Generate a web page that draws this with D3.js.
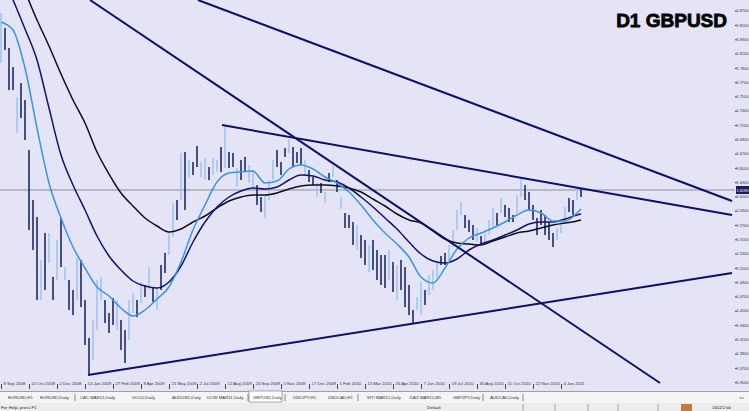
<!DOCTYPE html>
<html><head><meta charset="utf-8">
<script src="https://cdn.jsdelivr.net/npm/d3@7"></script>
<style>html,body{margin:0;padding:0;background:#fff;overflow:hidden}svg{display:block}text{font-family:"Liberation Sans",Arial,sans-serif}</style>
</head><body>
<script>
// ---- data (GBPUSD daily) ----
const highs = [
1.8668,1.8458,1.8178,1.7912,1.7492,1.7688,1.7450,1.6750,1.6050,1.5812,
1.5210,1.5588,1.5588,1.4972,1.5490,1.5798,1.5112,1.4930,1.4790,1.5238,
1.5210,1.4650,1.4118,1.4370,1.4930,1.4972,1.4650,1.4468,1.4678,1.4650,
1.4370,1.4230,1.4650,1.4748,1.4650,1.4902,1.4860,1.5112,1.4818,1.4818,
1.5140,1.5308,1.5588,1.6008,1.6050,1.6708,1.6722,1.6610,1.6582,1.6806,
1.6582,1.6638,1.6512,1.6638,1.6610,1.6792,1.7086,1.6722,1.6708,1.6498,
1.6610,1.6652,1.6540,1.6470,1.6260,1.6092,1.6120,1.6330,1.6610,1.6750,
1.6582,1.6778,1.6904,1.6792,1.6722,1.6778,1.6610,1.6470,1.6372,1.6288,
1.6288,1.6162,1.6428,1.6526,1.6330,1.6092,1.5868,1.5840,1.5742,1.5700,
1.5560,1.5490,1.5420,1.5490,1.5350,1.5280,1.5280,1.5350,1.5182,1.5140,
1.5210,1.5112,1.4860,1.4510,1.4692,1.4902,1.4790,1.5000,1.5070,1.5182,
1.5266,1.5308,1.5420,1.5630,1.5910,1.6022,1.5840,1.5770,1.5700,1.5658,
1.5546,1.5630,1.5770,1.5938,1.5868,1.6078,1.5980,1.5938,1.5840,1.6120,
1.6372,1.6260,1.6162,1.5980,1.5798,1.5910,1.5840,1.5742,1.5588,1.5658,
1.5742,1.5952,1.6078,1.6050,1.6232,1.6218];
const lows = [
1.7968,1.8150,1.7590,1.7590,1.6988,1.7198,1.6890,1.5630,1.5350,1.4650,
1.4650,1.4790,1.5168,1.4650,1.4930,1.5112,1.4930,1.4510,1.4440,1.4650,
1.4552,1.4020,1.3600,1.3810,1.4230,1.4650,1.4328,1.4188,1.4300,1.4230,
1.3950,1.3768,1.4090,1.4468,1.4412,1.4608,1.4692,1.4790,1.4622,1.4510,
1.4790,1.5028,1.5280,1.5532,1.5770,1.6050,1.5910,1.6358,1.6400,1.6512,
1.6372,1.6330,1.6330,1.6400,1.6442,1.6442,1.6498,1.6498,1.6512,1.6232,
1.6330,1.6442,1.6288,1.6190,1.5980,1.5882,1.5798,1.6050,1.6330,1.6512,
1.6400,1.6652,1.6708,1.6512,1.6568,1.6540,1.6400,1.6302,1.6260,1.6092,
1.6148,1.6008,1.6302,1.6372,1.6162,1.5924,1.5658,1.5658,1.5420,1.5350,
1.5238,1.5140,1.5042,1.5070,1.4930,1.4860,1.4818,1.4930,1.4762,1.4650,
1.4790,1.4552,1.4440,1.4328,1.4510,1.4440,1.4580,1.4720,1.4790,1.4958,
1.5140,1.5140,1.5210,1.5392,1.5630,1.5840,1.5658,1.5602,1.5490,1.5462,
1.5420,1.5420,1.5560,1.5672,1.5700,1.5868,1.5812,1.5742,1.5742,1.5868,
1.6092,1.6050,1.5910,1.5770,1.5560,1.5700,1.5560,1.5490,1.5392,1.5490,
1.5588,1.5770,1.5882,1.5840,1.6050,1.6092];
// L = bullish bar, D = bearish bar
const barDir = "LDDDLDDDDD"+"LDLDLDLDDL"+"DDDLLLDDDL"+"DDLLDLDLDL"+"DDLLDLDLDD"+"LLDLLDLDDL"+"DDLLDDLLLD"+"DDLDDDLDDL"+"DLDLDLDDDL"+"DDLDDDDLDL"+"DDDDLLDLLL"+"DDLLLLDDDL"+"DLLLDLDDDL"+"LDDDDDDDDL"+"LLDDLD";

// moving averages, sampled every 3rd bar (plus the last bar)
const maFast = [1.8542,1.8430,1.7898,1.7058,1.6288,1.5798,1.5392,1.5098,1.4832,1.4706,
1.4538,1.4426,1.4510,1.4664,1.4832,1.5182,1.5630,1.5980,1.6302,1.6428,
1.6442,1.6456,1.6288,1.6316,1.6484,1.6540,1.6484,1.6372,1.6288,1.6162,
1.5980,1.5770,1.5588,1.5434,1.5252,1.4972,1.4888,1.5098,1.5364,1.5518,
1.5588,1.5658,1.5742,1.5840,1.5910,1.5868,1.5756,1.5756,1.5868,1.5924];
const maMid = [1.9200,1.8850,1.8444,1.8010,1.7338,1.6680,1.6260,1.5910,1.5546,1.5266,
1.5070,1.4916,1.4846,1.4818,1.4902,1.5126,1.5462,1.5742,1.5952,1.6092,
1.6176,1.6218,1.6204,1.6232,1.6330,1.6400,1.6386,1.6330,1.6302,1.6218,
1.6092,1.5952,1.5798,1.5644,1.5462,1.5294,1.5196,1.5168,1.5224,1.5350,
1.5434,1.5490,1.5560,1.5630,1.5714,1.5742,1.5742,1.5784,1.5840,1.5854];
const maSlow = [1.9718,1.9298,1.8962,1.8570,1.8206,1.7814,1.7450,1.7128,1.6722,1.6414,
1.6148,1.5966,1.5798,1.5686,1.5602,1.5644,1.5742,1.5826,1.5938,1.6036,
1.6092,1.6120,1.6120,1.6148,1.6204,1.6246,1.6260,1.6260,1.6246,1.6218,
1.6162,1.6064,1.5966,1.5854,1.5770,1.5728,1.5616,1.5504,1.5448,1.5434,
1.5420,1.5476,1.5532,1.5588,1.5616,1.5658,1.5700,1.5728,1.5756,1.5770];

// trend lines: [barIndex, price] start and end
const trendLines = [
  [[49.25,1.8850],[182.75,1.6036]],
  [[22.25,1.8850],[164.75,1.3488]],
  [[55.25,1.7100],[182.75,1.5840]],
  [[21.75,1.3600],[182.75,1.5028]]
];
const lastPrice = 1.6190;
const priceTicks = [1.87,1.85,1.83,1.81,1.79,1.77,1.75,1.73,1.71,1.69,1.67,1.65,1.63,1.61,1.59,1.57,1.55,1.53,1.51,1.49,1.47,1.45,1.43,1.41,1.39,1.37,1.35];
const dateLabels = ["8 Sep 2008","20 Oct 2008","2 Dec 2008","14 Jan 2009","27 Feb 2009","9 Apr 2009","21 May 2009","2 Jul 2009","12 Aug 2009","24 Sep 2009","5 Nov 2009","17 Dec 2009","1 Feb 2010","15 Mar 2010","26 Apr 2010","7 Jun 2010","19 Jul 2010","30 Aug 2010","11 Oct 2010","22 Nov 2010","4 Jan 2011"];
const tabs = ["EURUSD,H1","EURUSD,Daily","CAC MAR11,Daily","GOLD,Daily","AUDUSD,Daily","DOW MAR11,Daily","GBPUSD,Daily","USDJPY,H1","USDCAD,H1","WTI MAR11,Daily","DAX MAR11,M5","GBPJPY,Daily","AUDCAD,Daily"];
const activeTab = "GBPUSD,Daily";
const title = "D1 GBPUSD";

// ---- layout ----
const W = 749, H = 411;
const plotR = 735, plotB = 384;
const svg = d3.select("body").append("svg").attr("width", W).attr("height", H);
svg.append("rect").attr("width", W).attr("height", H).attr("fill", "#fbfbfd");
svg.append("rect").attr("width", W).attr("height", 391).attr("fill", "#e4e4f6");

const x = d3.scaleLinear().domain([0, 145]).range([1, 581]);
const y = d3.scaleLinear().domain([1.8850, 1.3488]).range([0, 383]);

svg.append("defs").append("clipPath").attr("id","clip")
  .append("rect").attr("x",0).attr("y",0).attr("width",plotR).attr("height",plotB);
const plot = svg.append("g").attr("clip-path","url(#clip)");

// price line
plot.append("line").attr("x1",0).attr("x2",plotR).attr("y1",y(lastPrice)).attr("y2",y(lastPrice))
  .attr("stroke","#8c8ca0").attr("stroke-width",1);

// bars
const bars = highs.map((h,i)=>({i, h, l: lows[i], up: barDir[i] === "L"}));
plot.append("g").selectAll("line").data(bars).join("line")
  .attr("x1", d=>x(d.i)).attr("x2", d=>x(d.i))
  .attr("y1", d=>y(d.h)).attr("y2", d=>y(d.l))
  .attr("stroke", d=>d.up ? "#9fc6ee" : "#1d2a66")
  .attr("stroke-width", 1.6);

// moving averages
const maIdx = d3.range(0, 145, 3).concat([145]);
const maLine = d3.line().x((d,k)=>x(maIdx[k])).y(d=>y(d)).curve(d3.curveMonotoneX);
[[maSlow,"#0d0d1c"],[maMid,"#12126e"],[maFast,"#3b95dc"]].forEach(([arr,c])=>{
  plot.append("path").attr("d", maLine(arr)).attr("fill","none").attr("stroke",c).attr("stroke-width",1.5);
});

// trend lines
plot.append("g").selectAll("line").data(trendLines).join("line")
  .attr("x1", d=>x(d[0][0])).attr("y1", d=>y(d[0][1]))
  .attr("x2", d=>x(d[1][0])).attr("y2", d=>y(d[1][1]))
  .attr("stroke","#0e0e6e").attr("stroke-width",2);

// title
svg.append("text").attr("x",727).attr("y",27).attr("text-anchor","end")
  .attr("font-size",19).attr("font-weight","bold").attr("fill","#000")
  .attr("stroke","#000").attr("stroke-width",0.8).text(title);

// right price axis
const yAxis = d3.axisRight(y).tickValues(priceTicks).tickSize(2).tickPadding(0).tickFormat(d3.format(".4f"));
const ya = svg.append("g").attr("transform",`translate(${plotR},0)`).call(yAxis);
ya.select(".domain").remove();
ya.selectAll("text").attr("font-size",3.9).attr("fill","#333")
  .attr("text-anchor","end").attr("x",13.3);
ya.selectAll("line").attr("stroke","#444");
// current price label
const lp = svg.append("g").attr("transform",`translate(${plotR+1},${y(lastPrice)})`);
lp.append("rect").attr("x",0).attr("y",-4).attr("width",13).attr("height",8).attr("fill","#1b1b62");
lp.append("text").attr("x",12.3).attr("y",1.6).attr("text-anchor","end").attr("font-size",3.9).attr("fill","#fff")
  .text(d3.format(".4f")(lastPrice));

// bottom time axis
const tickIdx = dateLabels.map((d,k)=>k*7);
const xAxis = d3.axisBottom(x).tickValues(tickIdx).tickSize(5).tickPadding(0)
  .tickFormat((d,k)=>dateLabels[k]);
const xa = svg.append("g").attr("transform",`translate(0,${plotB})`).call(xAxis);
xa.select(".domain").remove();
xa.selectAll("line").attr("stroke","#444");
xa.selectAll("text").attr("font-size",4.3).attr("fill","#333").attr("text-anchor","start")
  .attr("dx",2).attr("dy",-2.5).attr("y",3);

// tabs row
const tabsG = svg.append("g");
tabsG.append("rect").attr("x",0).attr("y",391).attr("width",W).attr("height",12).attr("fill","#f4f4f4");
tabsG.append("line").attr("x1",0).attr("x2",W).attr("y1",391.5).attr("y2",391.5).attr("stroke","#a0a0a0");
const tabX = [8,40,80,132,172,207,253,293,328,367,410,453,490];
tabs.forEach((t,k)=>{
  if (t === activeTab) {
    tabsG.append("rect").attr("x",tabX[k]-4).attr("y",391).attr("width",33).attr("height",11).attr("fill","#fff").attr("stroke","#707070").attr("stroke-width",0.6);
  }
  tabsG.append("text").attr("x",tabX[k]).attr("y",399).attr("font-size",4.3).attr("fill","#333").text(t);
});
[75,248,285,358,483,523].forEach(px=>{
  tabsG.append("line").attr("x1",px).attr("x2",px).attr("y1",394).attr("y2",401).attr("stroke","#555").attr("stroke-width",0.7);
});
tabsG.append("text").attr("x",739).attr("y",399).attr("font-size",4.3).attr("fill","#777").text("◂ ▸");

// status bar
const st = svg.append("g");
st.append("rect").attr("x",0).attr("y",403).attr("width",W).attr("height",8).attr("fill","#ededed");
st.append("text").attr("x",1).attr("y",409).attr("font-size",4.3).attr("fill","#222").text("For Help, press F1");
st.append("text").attr("x",427).attr("y",409).attr("font-size",4.3).attr("fill","#222").text("Default");
[523,555,588,618,658].forEach(px=>{
  st.append("line").attr("x1",px).attr("x2",px).attr("y1",404).attr("y2",411).attr("stroke","#777").attr("stroke-width",0.6);
});
st.append("rect").attr("x",681).attr("y",404).attr("width",11).attr("height",7).attr("fill","#c8783c");
st.append("text").attr("x",712).attr("y",409).attr("font-size",4.3).attr("fill","#222").text("1652/2 kb");
</script>
</body></html>
